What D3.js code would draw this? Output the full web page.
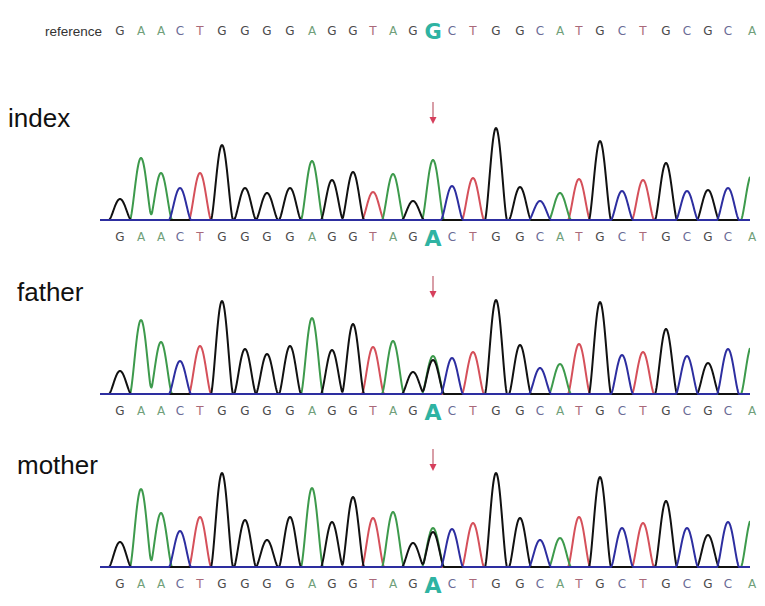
<!DOCTYPE html>
<html>
<head>
<meta charset="utf-8">
<script src="https://cdn.jsdelivr.net/npm/d3@7"></script>
<style>
    body { margin: 0; background: #fff; }
    svg { display: block; }
</style>
</head>
<body>
<svg id="chart" width="765" height="606"></svg>
<script>
// base calls
var refSeq = "GAACTGGGGAGGTAGGCTGGCATGCTGCGCA".split('');
var sampleSeq = "GAACTGGGGAGGTAGACTGGCATGCTGCGCA".split('');
var variantIdx = 15;

// peak location of each call (scan units)
var peakScan = [20, 41, 61, 80, 100, 122, 145, 167, 190, 212, 232, 253, 273, 293, 313,
                333, 352, 373, 396, 420, 440, 460, 479, 500, 522, 543, 566, 587, 608, 628, 652];

// peak heights per sample (signal units)
var indexHeights  = [21, 62, 47, 32, 47, 75, 32, 27, 32, 59, 40, 48, 28, 46, 19,
                     60, 34, 42, 92, 33, 19, 27, 41, 79, 29, 40, 57, 29, 30, 32, 46];
var fatherHeights = [23, 74, 52, 33, 48, 93, 45, 40, 48, 76, 44, 70, 47, 53, 22,
                     38, 36, 42, 94, 49, 26, 30, 50, 92, 39, 42, 65, 38, 31, 45, 49];
var motherHeights = [25, 78, 54, 36, 50, 94, 47, 27, 50, 79, 45, 70, 49, 55, 24,
                     39, 38, 44, 94, 49, 27, 29, 50, 90, 39, 44, 66, 39, 32, 45, 49];

// second allele peaks under a call: [call index, base, height]
var indexSecondary  = [];
var fatherSecondary = [[15, 'G', 34]];
var motherSecondary = [[15, 'G', 35]];

var panels = [
    { name: 'index',  heights: indexHeights,  secondary: indexSecondary,  base: 220, lx: 8 },
    { name: 'father', heights: fatherHeights, secondary: fatherSecondary, base: 394, lx: 17 },
    { name: 'mother', heights: motherHeights, secondary: motherSecondary, base: 567, lx: 17 },
];

var traceColors = { A: '#3d9a4c', C: '#2d2ea0', G: '#111111', T: '#d5505a' };
var letterColors = { A: '#6f9f7a', C: '#6a6b96', G: '#4a4a4a', T: '#a9697a' };
var variantColor = '#2fb3a2';
var drawOrder = ['T', 'A', 'G', 'C'];

var svg = d3.select('#chart');
var x = d3.scaleLinear().domain([0, 650]).range([100, 750]);

svg.append('defs').append('clipPath').attr('id', 'clip')
    .append('rect').attr('x', x(0)).attr('y', 0).attr('width', x(650) - x(0)).attr('height', 606);

function peakShape(d) {
    var w = 11;
    if (Math.abs(d) >= w) return 0;
    return Math.pow(Math.cos(Math.PI * d / (2 * w)), 1.5);
}

function letterRow(g, seq, cy, big) {
    g.selectAll('text.base')
        .data(seq)
        .join('text')
        .attr('class', 'base')
        .attr('x', (d, i) => x(peakScan[i]))
        .attr('y', (d, i) => i == variantIdx ? cy + 1 : cy)
        .attr('text-anchor', 'middle')
        .attr('dominant-baseline', 'central')
        .attr('font-family', '"DejaVu Sans", sans-serif')
        .attr('font-size', (d, i) => i == variantIdx ? big : 12)
        .attr('font-weight', (d, i) => i == variantIdx ? 'bold' : 'normal')
        .attr('fill', (d, i) => i == variantIdx ? variantColor : letterColors[d])
        .text(d => d);
}

// reference row
var ref = svg.append('g');
ref.append('text')
    .attr('x', 45).attr('y', 31)
    .attr('dominant-baseline', 'central')
    .attr('font-family', '"Liberation Sans", Arial, sans-serif')
    .attr('font-size', 13.5)
    .attr('fill', '#333')
    .text('reference');
letterRow(ref, refSeq, 31, 21);

panels.forEach(p => {
    var y = d3.scaleLinear().domain([0, 100]).range([p.base, p.base - 100]);
    var g = svg.append('g');

    // collect peaks per channel
    var peaks = { A: [], C: [], G: [], T: [] };
    sampleSeq.forEach((b, i) => peaks[b].push({ s: peakScan[i], h: p.heights[i] }));
    p.secondary.forEach(d => peaks[d[1]].push({ s: peakScan[d[0]], h: d[2] }));

    var scans = d3.range(0, 650.5, 0.5);
    var line = d3.line().x(d => x(d[0])).y(d => y(d[1]));

    var traces = g.append('g').attr('clip-path', 'url(#clip)');
    drawOrder.forEach(b => {
        var pts = scans.map(s => [s, d3.sum(peaks[b], pk => pk.h * peakShape(s - pk.s))]);
        traces.append('path')
            .attr('d', line(pts))
            .attr('fill', 'none')
            .attr('stroke', traceColors[b])
            .attr('stroke-width', 2)
            .attr('stroke-linejoin', 'round');
    });

    letterRow(g.append('g'), sampleSeq, p.base + 17, 22);

    g.append('text')
        .attr('x', p.lx).attr('y', p.base - 93)
        .attr('font-family', '"Liberation Sans", Arial, sans-serif')
        .attr('font-size', 26)
        .attr('fill', '#111')
        .text(p.name);

    // arrow at the variant
    var ax = x(peakScan[variantIdx]);
    g.append('line')
        .attr('x1', ax).attr('x2', ax)
        .attr('y1', p.base - 118).attr('y2', p.base - 99)
        .attr('stroke', '#c46a78')
        .attr('stroke-width', 1.3);
    g.append('path')
        .attr('d', `M${ax - 3.5},${p.base - 103}L${ax},${p.base - 96}L${ax + 3.5},${p.base - 103}Z`)
        .attr('fill', '#d63f5c');
});
</script>
</body>
</html>
